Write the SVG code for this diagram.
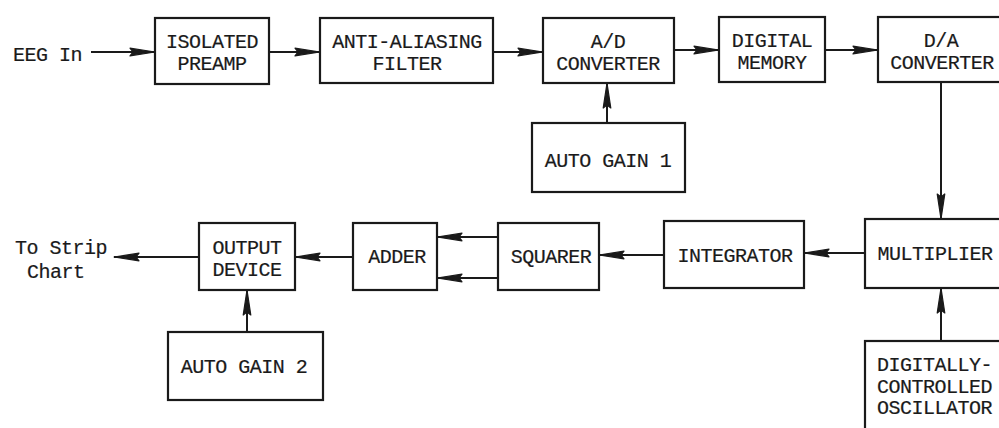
<svg xmlns="http://www.w3.org/2000/svg" width="999" height="428" viewBox="0 0 999 428">
<style>
.box{fill:#fff;stroke:#1a1a1a;stroke-width:2.2}
.t,.l{font-family:"Liberation Mono","DejaVu Sans Mono",monospace;font-size:20px;letter-spacing:-0.5px;fill:#1a1a1a;stroke:#1a1a1a;stroke-width:0.2}
.t{text-anchor:middle}
.c{stroke:#1a1a1a;stroke-width:2;fill:none;marker-end:url(#ah)}
</style>
<defs>
<marker id="ah" markerUnits="userSpaceOnUse" markerWidth="28" markerHeight="12" refX="26" refY="6" orient="auto">
<path d="M1,2.2 L26,6 L1,9.8 L4,6 z" fill="#1a1a1a" stroke="#1a1a1a" stroke-width="1.2" stroke-linejoin="round"/>
</marker>
</defs>
<rect width="999" height="428" fill="#fff"/>
<g id="connectors">
<line class="c" x1="91" y1="52" x2="155" y2="52"/>
<line class="c" x1="269" y1="52" x2="320" y2="52"/>
<line class="c" x1="493" y1="52" x2="543" y2="52"/>
<line class="c" x1="674" y1="50" x2="719" y2="50"/>
<line class="c" x1="825" y1="50" x2="878" y2="50"/>
<line class="c" x1="607" y1="123" x2="607" y2="83"/>
<line class="c" x1="941" y1="82" x2="941" y2="219"/>
<line class="c" x1="941" y1="341" x2="941" y2="288"/>
<line class="c" x1="865" y1="253" x2="804" y2="253"/>
<line class="c" x1="664" y1="255" x2="599" y2="255"/>
<line class="c" x1="498" y1="237" x2="437" y2="237"/>
<line class="c" x1="498" y1="278" x2="437" y2="278"/>
<line class="c" x1="353" y1="257" x2="295" y2="257"/>
<line class="c" x1="199" y1="257" x2="114" y2="257"/>
<line class="c" x1="247" y1="332" x2="247" y2="290"/>
</g>
<g id="eeg-in"><text class="l" x="13" y="61">EEG In</text></g>
<g id="to-strip-chart"><text class="l" x="15" y="254">To Strip</text><text class="l" x="27" y="278">Chart</text></g>
<g id="isolated-preamp"><rect class="box" x="155" y="18" width="114" height="66"/><text class="t" x="212" y="48">ISOLATED</text><text class="t" x="212" y="70">PREAMP</text></g>
<g id="anti-aliasing-filter"><rect class="box" x="320" y="18" width="173" height="65"/><text class="t" x="407" y="48">ANTI-ALIASING</text><text class="t" x="407" y="70">FILTER</text></g>
<g id="ad-converter"><rect class="box" x="543" y="18" width="131" height="65"/><text class="t" x="608" y="48">A/D</text><text class="t" x="608" y="70">CONVERTER</text></g>
<g id="digital-memory"><rect class="box" x="719" y="17" width="106" height="65"/><text class="t" x="772" y="47">DIGITAL</text><text class="t" x="772" y="69">MEMORY</text></g>
<g id="da-converter"><rect class="box" x="878" y="17" width="130" height="65"/><text class="t" x="941" y="47">D/A</text><text class="t" x="942" y="69">CONVERTER</text></g>
<g id="auto-gain-1"><rect class="box" x="532" y="123" width="153" height="69"/><text class="t" x="608" y="167">AUTO GAIN 1</text></g>
<g id="multiplier"><rect class="box" x="865" y="219" width="150" height="69"/><text class="t" x="935" y="260">MULTIPLIER</text></g>
<g id="integrator"><rect class="box" x="664" y="221" width="140" height="67"/><text class="t" x="735" y="262">INTEGRATOR</text></g>
<g id="squarer"><rect class="box" x="498" y="223" width="101" height="67"/><text class="t" x="551" y="263">SQUARER</text></g>
<g id="adder"><rect class="box" x="353" y="223" width="84" height="67"/><text class="t" x="397" y="263">ADDER</text></g>
<g id="output-device"><rect class="box" x="199" y="223" width="96" height="67"/><text class="t" x="247" y="254">OUTPUT</text><text class="t" x="247" y="276">DEVICE</text></g>
<g id="auto-gain-2"><rect class="box" x="168" y="332" width="155" height="68"/><text class="t" x="244" y="373">AUTO GAIN 2</text></g>
<g id="dco"><rect class="box" x="865" y="341" width="150" height="100"/><text class="l" x="877" y="371">DIGITALLY-</text><text class="l" x="877" y="393">CONTROLLED</text><text class="l" x="877" y="414">OSCILLATOR</text></g>
</svg>
